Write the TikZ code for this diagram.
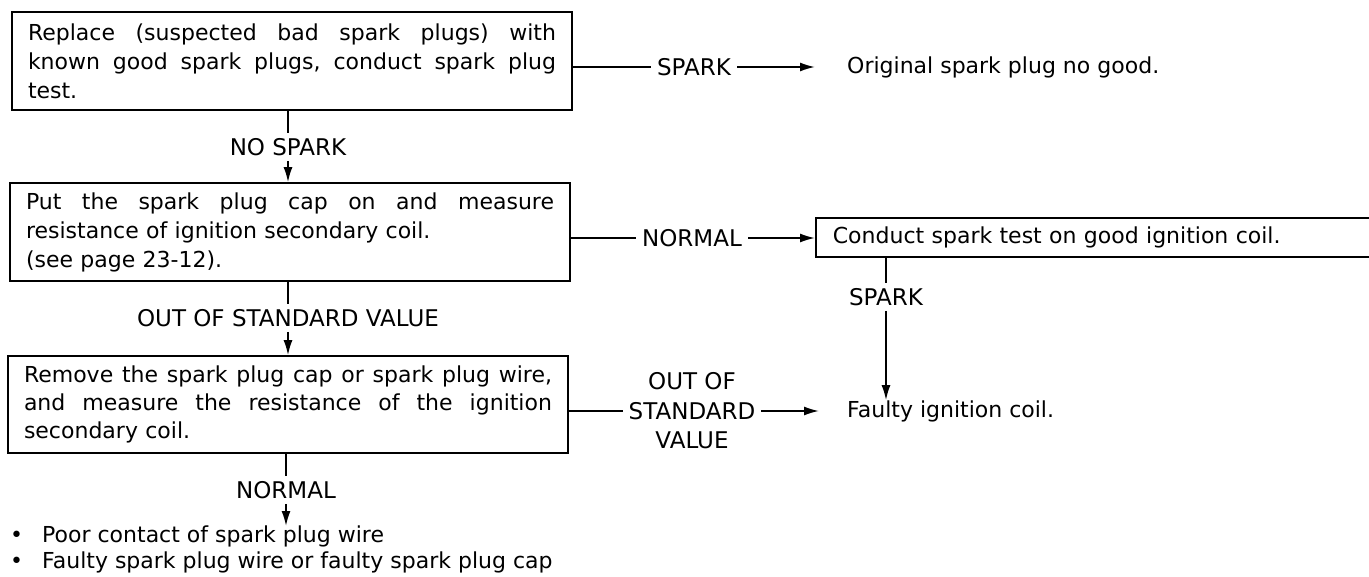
\documentclass[tikz,border=0pt]{standalone}
\usepackage{fontspec}
\setmainfont{DejaVu Sans}
\usetikzlibrary{arrows.meta}
\newcommand{\jl}[1]{\makebox[528pt][l]{#1}}
\begin{document}
\begin{tikzpicture}[x=1pt,y=-1pt,
  every node/.style={font=\fontsize{22}{29}\selectfont},
  box/.style={draw, line width=1.7pt, rectangle, inner xsep=16pt, inner ysep=0pt,
              text width=528pt, align=left, minimum height=98pt},
  lbl/.style={inner xsep=6pt, inner ysep=5pt, font=\fontsize{23}{29.5}\selectfont, align=center},
  txt/.style={inner sep=0pt, anchor=west},
  conn/.style={line width=1.7pt},
  arr/.style={conn, -{Latex[length=15pt,width=9pt]}}]
\fill[white] (0,0) rectangle (1369,577);
\useasboundingbox (0,0) rectangle (1369,577);

% boxes
\node[box] (b1) at (292,61) {\jl{Replace\hfill(suspected\hfill bad\hfill spark\hfill plugs)\hfill with}\\
  \jl{known\hfill good\hfill spark\hfill plugs,\hfill conduct\hfill spark\hfill plug}\\ test.};
\node[box] (b2) at (290,232) {\jl{Put\hfill the\hfill spark\hfill plug\hfill cap\hfill on\hfill and\hfill measure}\\
  resistance of ignition secondary coil.\\ (see page 23-12).};
\node[box, minimum height=97pt, font=\fontsize{22}{28}\selectfont] (b4) at (288,404.5)
  {\jl{Remove\hfill the\hfill spark\hfill plug\hfill cap\hfill or\hfill spark\hfill plug\hfill wire,}\\
  \jl{and\hfill measure\hfill the\hfill resistance\hfill of\hfill the\hfill ignition}\\ secondary coil.};
\node[box, anchor=west, text width=566pt, inner xsep=17pt, minimum height=39pt] (b3) at (815,237.5)
  {Conduct spark test on good ignition coil.};

% end texts
\node[txt] (orig) at (847,67) {Original spark plug no good.};
\node[txt] (faulty) at (847,411) {Faulty ignition coil.};
\node[txt, anchor=north west, font=\fontsize{22}{26}\selectfont, align=left] (bul) at (10,526)
  {\makebox[32pt][l]{•}Poor contact of spark plug wire\\
   \makebox[32pt][l]{•}Faulty spark plug wire or faulty spark plug cap};

% labels
\node[lbl] (ls1) at (694,67) {SPARK};
\node[lbl] (lns) at (288,147) {NO SPARK};
\node[lbl] (ln1) at (692,238) {NORMAL};
\node[lbl] (losv) at (288,318) {OUT OF STANDARD VALUE};
\node[lbl] (ls2) at (886,297) {SPARK};
\node[lbl] (losv2) at (692,411) {OUT OF\\STANDARD\\VALUE};
\node[lbl] (ln2) at (286,490) {NORMAL};

% connectors
\draw[conn] (b1.east |- ls1) -- (ls1.west);
\draw[arr, shorten >=32pt] (ls1.east) -- (orig.west |- ls1);

\draw[conn] (b1.south -| lns) -- (lns.north);
\draw[arr] (lns.south) -- (b2.north -| lns);

\draw[conn] (b2.east |- ln1) -- (ln1.west);
\draw[arr] (ln1.east) -- (b3.west |- ln1);

\draw[conn] (b2.south -| losv) -- (losv.north);
\draw[arr] (losv.south) -- (b4.north -| losv);

\draw[conn] (b3.south -| ls2) -- (ls2.north);
\draw[arr] (ls2.south) -- (ls2.south |- faulty.north);

\draw[conn] (b4.east |- losv2) -- (losv2.west);
\draw[arr, shorten >=28pt] (losv2.east) -- (faulty.west |- losv2);

\draw[conn] (b4.south -| ln2) -- (ln2.north);
\draw[arr] (ln2.south) -- (ln2.south |- bul.north);
\end{tikzpicture}
\end{document}
